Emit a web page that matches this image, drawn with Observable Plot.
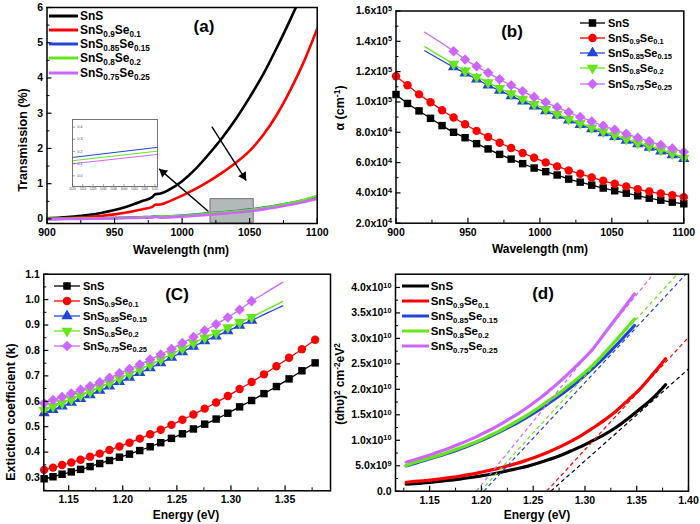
<!DOCTYPE html>
<html><head><meta charset="utf-8">
<script src="https://cdn.jsdelivr.net/npm/d3@7"></script>
<script src="https://cdn.jsdelivr.net/npm/@observablehq/plot@0.6"></script>
<style>
body{margin:0;background:#fff;}
#fig{position:relative;width:700px;height:524px;overflow:hidden;font-family:"Liberation Sans",Arial,sans-serif;font-weight:bold;color:#000;background:#fff;}
.panel{position:absolute;}
.t{position:absolute;white-space:nowrap;font-weight:bold;transform:translate(-50%,-50%);}
.r{transform:translate(-50%,-50%) rotate(-90deg);}
sub{font-size:0.68em;vertical-align:-0.32em;line-height:0;}
sup{font-size:0.68em;vertical-align:0.5em;line-height:0;}
</style></head>
<body><div id="fig"></div>
<script>
// ---------- series ----------
const seriesHtml = ["SnS","SnS<sub>0.9</sub>Se<sub>0.1</sub>","SnS<sub>0.85</sub>Se<sub>0.15</sub>","SnS<sub>0.8</sub>Se<sub>0.2</sub>","SnS<sub>0.75</sub>Se<sub>0.25</sub>"];
const colors = ["#000000","#ff0000","#2244dd","#66e61a","#cc66ff"];
const symbolNames = ["square","circle","triangle","triangle","square"];
const symbolRot = [0,0,0,180,45];

// ---------- panel (a): transmission ----------
const aWlSnS = [900,910,920,930,940,950,960,970,978,980,984,990,1000,1010,1020,1030,1040,1050,1060,1070,1080,1086];
const aSnS   = [0.02,0.04,0.07,0.11,0.17,0.25,0.36,0.50,0.62,0.70,0.72,0.82,1.07,1.42,1.85,2.32,2.85,3.45,4.10,4.85,5.65,6.15];
const aWl    = [900,910,920,930,940,950,960,970,978,980,984,990,1000,1010,1020,1030,1040,1050,1060,1070,1080,1090,1100];
const aSe10  = [0.01,0.02,0.035,0.055,0.085,0.13,0.19,0.27,0.34,0.40,0.41,0.49,0.66,0.85,1.07,1.32,1.60,1.93,2.38,2.95,3.65,4.45,5.40];
const aSe15  = [0.00,0.005,0.010,0.015,0.021,0.029,0.038,0.048,0.058,0.072,0.063,0.073,0.095,0.125,0.16,0.19,0.225,0.265,0.32,0.38,0.45,0.53,0.63];
const aSe20  = [0.00,0.004,0.008,0.013,0.018,0.026,0.035,0.045,0.055,0.070,0.060,0.070,0.090,0.120,0.15,0.18,0.215,0.255,0.31,0.375,0.45,0.54,0.66];
const aSe25  = [-0.01,-0.006,-0.002,0.003,0.009,0.016,0.024,0.033,0.042,0.055,0.035,0.045,0.065,0.090,0.12,0.15,0.18,0.22,0.27,0.33,0.40,0.48,0.57];
const aBox   = [{x1:1021, x2:1053, y1:-0.13, y2:0.56}];
const aArrows = [{x1:1022, y1:2.62, x2:1047.5, y2:1.09},{x1:1019.5, y1:0.21, x2:983, y2:1.42}];
const aXTicks = [900,950,1000,1050,1100], aXMinor = [925,975,1025,1075];
const aYTicks = [0,1,2,3,4,5,6], aYMinor = [0.5,1.5,2.5,3.5,4.5,5.5];
// inset (zoom of grey box)
const insWl = [1020,1053];
const insSe15 = [0.151,0.234], insSe20 = [0.124,0.203], insSe25 = [0.099,0.176];
const insXTicks = [1020,1024,1028,1032,1036,1040,1044,1048,1052];
const insYTicks = [0.0,0.1,0.2,0.3,0.4];

// ---------- panel (b): absorption coefficient ----------
const bWl = [900,908,916,924,932,940,948,956,964,972,980,988,996,1004,1012,1020,1028,1036,1044,1052,1060,1068,1076,1084,1092,1100];
const bSnS  = [1.049e5,9.90e4,9.41e4,8.92e4,8.44e4,8.00e4,7.64e4,7.25e4,6.90e4,6.54e4,6.23e4,5.93e4,5.64e4,5.40e4,5.18e4,4.91e4,4.71e4,4.51e4,4.32e4,4.14e4,3.98e4,3.81e4,3.65e4,3.52e4,3.39e4,3.28e4];
const bSe10 = [1.17e5,1.11e5,1.05e5,9.98e4,9.45e4,8.97e4,8.53e4,8.09e4,7.69e4,7.31e4,6.96e4,6.63e4,6.32e4,6.01e4,5.75e4,5.48e4,5.26e4,5.02e4,4.80e4,4.60e4,4.43e4,4.25e4,4.09e4,3.96e4,3.85e4,3.72e4];
const bWlTop = [920,940,948,956,964,972,980,988,996,1004,1012,1020,1028,1036,1044,1052,1060,1068,1076,1084,1092,1100];
const bSe15 = [1.338e5,1.23e5,1.19e5,1.15e5,1.11e5,1.075e5,1.04e5,1.005e5,9.72e4,9.40e4,9.10e4,8.80e4,8.50e4,8.22e4,7.95e4,7.70e4,7.45e4,7.22e4,7.00e4,6.75e4,6.50e4,6.25e4];
const bSe20 = [1.364e5,1.25e5,1.205e5,1.165e5,1.128e5,1.09e5,1.055e5,1.02e5,9.85e4,9.52e4,9.20e4,8.88e4,8.60e4,8.30e4,8.05e4,7.80e4,7.55e4,7.30e4,7.08e4,6.85e4,6.60e4,6.30e4];
const bSe25 = [1.46e5,1.335e5,1.28e5,1.235e5,1.192e5,1.15e5,1.11e5,1.07e5,1.033e5,9.98e4,9.65e4,9.32e4,9.01e4,8.71e4,8.43e4,8.16e4,7.90e4,7.64e4,7.40e4,7.16e4,6.93e4,6.70e4];
const bXTicks = [900,950,1000,1050,1100], bXMinor = [925,975,1025,1075];
const bYTicks = [2e4,4e4,6e4,8e4,1e5,1.2e5,1.4e5,1.6e5], bYMinor = [3e4,5e4,7e4,9e4,1.1e5,1.3e5,1.5e5];

// ---------- panel (c): extinction coefficient ----------
const cE = [1.1273,1.1355,1.1439,1.1524,1.1610,1.1698,1.1787,1.1877,1.1969,1.2062,1.2157,1.2253,1.2351,1.2450,1.2551,1.2653,1.2757,1.2863,1.2971,1.3080,1.3191,1.3305,1.3420,1.3537,1.3656,1.3778];
const cSnS  = [0.295,0.303,0.313,0.322,0.332,0.343,0.355,0.367,0.380,0.392,0.406,0.421,0.437,0.454,0.472,0.491,0.510,0.530,0.553,0.578,0.603,0.630,0.658,0.688,0.720,0.751];
const cSe10 = [0.330,0.339,0.349,0.359,0.370,0.382,0.394,0.408,0.422,0.437,0.453,0.470,0.488,0.507,0.527,0.548,0.571,0.595,0.621,0.648,0.676,0.706,0.738,0.771,0.805,0.842];
const cETop = [1.1273,1.1355,1.1439,1.1524,1.1610,1.1698,1.1787,1.1877,1.1969,1.2062,1.2157,1.2253,1.2351,1.2450,1.2551,1.2653,1.2757,1.2863,1.2971,1.3080,1.3191,1.3305,1.3420,1.3478];
const cTopMarkers = 21;
const cSe15 = [0.554,0.567,0.580,0.595,0.610,0.625,0.642,0.659,0.677,0.694,0.712,0.731,0.751,0.772,0.794,0.816,0.837,0.856,0.877,0.898,0.918,0.941,0.964,0.975];
const cSe20 = [0.566,0.580,0.593,0.608,0.623,0.638,0.655,0.672,0.690,0.707,0.725,0.744,0.764,0.785,0.807,0.829,0.850,0.869,0.890,0.911,0.931,0.956,0.980,0.993];
const cSe25 = [0.592,0.605,0.617,0.631,0.645,0.659,0.675,0.692,0.710,0.727,0.745,0.764,0.784,0.806,0.829,0.853,0.878,0.903,0.930,0.960,0.994,1.023,1.053,1.068];
const cXTicks = [1.15,1.20,1.25,1.30,1.35], cXMinor = [1.175,1.225,1.275,1.325,1.375];
const cYTicks = [0.3,0.4,0.5,0.6,0.7,0.8,0.9,1.0,1.1], cYMinor = [0.25,0.35,0.45,0.55,0.65,0.75,0.85,0.95,1.05];

// ---------- panel (d): Tauc plot, (αhυ)² in units of 1e10 ----------
const dE = cE;
const dSnS  = [0.1367,0.1482,0.1621,0.1769,0.1957,0.2168,0.2381,0.2633,0.2914,0.3228,0.3563,0.4029,0.4449,0.4931,0.554,0.6214,0.6961,0.7877,0.8844,0.9986,1.114,1.261,1.433,1.623,1.828,2.089];
const dSe10 = [0.1759,0.1911,0.2052,0.2222,0.2435,0.2686,0.294,0.325,0.361,0.4026,0.4438,0.4964,0.551,0.6191,0.6924,0.7755,0.8696,0.9785,1.101,1.245,1.400,1.581,1.794,2.020,2.298,2.599];
const dETop = [1.1273,1.1355,1.1439,1.1524,1.1610,1.1698,1.1787,1.1877,1.1969,1.2062,1.2157,1.2253,1.2351,1.2450,1.2551,1.2653,1.2757,1.2863,1.2971,1.3080,1.3191,1.3478];
const dSe15 = [0.496,0.545,0.596,0.651,0.703,0.760,0.824,0.892,0.968,1.051,1.144,1.243,1.348,1.464,1.591,1.732,1.881,2.039,2.225,2.423,2.633,3.252];
const dSe20 = [0.504,0.562,0.614,0.666,0.718,0.780,0.845,0.914,0.987,1.076,1.165,1.271,1.383,1.504,1.639,1.782,1.934,2.105,2.283,2.484,2.719,3.380];
const dSe25 = [0.570,0.619,0.671,0.727,0.787,0.854,0.925,1.002,1.087,1.181,1.284,1.398,1.519,1.654,1.804,1.973,2.152,2.351,2.566,2.803,3.101,3.872];
// linear-fit extrapolations (dashed): [E at zero, E end, value end]
const dFitE0 = [1.267,1.263,1.2023,1.199,1.195];
const dFitE1 = [1.400,1.400,1.3975,1.389,1.366];
const dFitY1 = [2.40,3.02,4.26,4.26,4.26];
const dXTicks = [1.15,1.20,1.25,1.30,1.35,1.40], dXMinor = [1.125,1.175,1.225,1.275,1.325,1.375];
const dYTicks = [0,0.5,1.0,1.5,2.0,2.5,3.0,3.5,4.0], dYMinor = [0.25,0.75,1.25,1.75,2.25,2.75,3.25,3.75];

// ---------- helpers ----------
const FONT = "'Liberation Sans', Arial, Helvetica, sans-serif";
const sci = v => { if (v === 0) return "0.0"; const e = Math.floor(Math.log10(v) + 1e-9); return (v / 10 ** e).toFixed(1) + "x10^" + e; };
const pts = (xs, ys) => xs.map((x, i) => ({x, y: ys[i]}));

const fig = document.getElementById("fig");

function fixSuperscripts(svg) {
  svg.querySelectorAll("text").forEach(t => {
    const s = t.textContent;
    if (!s.includes("^")) return;
    const [b, e] = s.split("^");
    t.textContent = b;
    const ts = document.createElementNS("http://www.w3.org/2000/svg", "tspan");
    ts.setAttribute("dy", "-0.45em");
    ts.setAttribute("font-size", "0.7em");
    ts.textContent = e;
    t.append(ts);
  });
}

function panel({left, top, W=350, H=262, m, xDomain, yDomain, xT, xM, yT, yM, xFmt, yFmt, marks, fs=10.5}) {
  const fw = W - m.l - m.r, fh = H - m.t - m.b;
  const svg = Plot.plot({
    width: W, height: H, marginLeft: m.l, marginRight: m.r, marginTop: m.t, marginBottom: m.b,
    style: `font: bold ${fs}px ${FONT}; overflow: visible; background: transparent; color: #000;`,
    x: {domain: xDomain, axis: null},
    y: {domain: yDomain, axis: null},
    marks: [
      ...marks,
      Plot.tickX(xT, {x: d => d, insetTop: fh - 5, stroke: "#000", strokeWidth: 1.2}),
      Plot.tickX(xM, {x: d => d, insetTop: fh - 3, stroke: "#000", strokeWidth: 1}),
      Plot.tickY(yT, {y: d => d, insetRight: fw - 5, stroke: "#000", strokeWidth: 1.2}),
      Plot.tickY(yM, {y: d => d, insetRight: fw - 3, stroke: "#000", strokeWidth: 1}),
      Plot.axisX(xT, {tickSize: 0, tickPadding: 5, tickFormat: xFmt, label: null, fill: "#000"}),
      Plot.axisY(yT, {tickSize: 0, tickPadding: 4, tickFormat: yFmt, label: null, fill: "#000"}),
      Plot.frame({stroke: "#000", strokeWidth: 1.5})
    ]
  });
  fixSuperscripts(svg);
  svg.classList.add("panel");
  svg.style.left = left + "px"; svg.style.top = top + "px";
  fig.append(svg);
}

function text(html, x, y, size, rotate=false) {
  const d = document.createElement("div");
  d.className = "t" + (rotate ? " r" : "");
  d.style.left = x + "px"; d.style.top = y + "px"; d.style.fontSize = size + "px";
  d.innerHTML = html;
  fig.append(d);
}

const d3sym = {square: d3.symbolSquare, circle: d3.symbolCircle, triangle: d3.symbolTriangle};
function legend({left, top0, dy, len, gap, font, sw, markers}) {
  seriesHtml.forEach((h, i) => {
    const row = document.createElement("div");
    row.style.cssText = `position:absolute;left:${left}px;top:${top0 + i * dy - 10}px;height:20px;display:flex;align-items:center;white-space:nowrap;font:bold ${font}px ${FONT};`;
    const s = d3.create("svg").attr("width", len).attr("height", 20).style("margin-right", gap + "px").style("overflow", "visible");
    s.append("line").attr("x1", 0).attr("x2", len).attr("y1", 10).attr("y2", 10).attr("stroke", colors[i]).attr("stroke-width", sw);
    if (markers) s.append("path").attr("d", d3.symbol(d3sym[symbolNames[i]], 18 * Math.PI)())
      .attr("transform", `translate(${len / 2},10) rotate(${symbolRot[i]})`).attr("fill", colors[i]);
    row.append(s.node());
    const sp = document.createElement("span"); sp.innerHTML = h; row.append(sp);
    fig.append(row);
  });
}

// ---------- (a) ----------
const aM = {l: 46.5, r: 33.3, t: 7, b: 39}, aXD = [900, 1100], aYD = [-0.13, 6];
const aPxX = (350 - aM.l - aM.r) / (aXD[1] - aXD[0]), aPxY = (262 - aM.t - aM.b) / (aYD[1] - aYD[0]);
const headR = 3.4, headTip = 2 * Math.sqrt(headR * headR * Math.PI / (3 * Math.sqrt(3)));
const aHeads = aArrows.map(a => {
  const vx = (a.x2 - a.x1) * aPxX, vy = -(a.y2 - a.y1) * aPxY, L = Math.hypot(vx, vy);
  const ux = vx / L, uy = vy / L;
  return Plot.dot([a], {x: "x2", y: "y2", symbol: "triangle", r: headR, fill: "#000",
    rotate: Math.atan2(ux, -uy) * 180 / Math.PI, dx: -ux * headTip, dy: -uy * headTip});
});
const aSeries = [pts(aWlSnS, aSnS), pts(aWl, aSe10), pts(aWl, aSe15), pts(aWl, aSe20), pts(aWl, aSe25)];
panel({
  left: 0, top: 0, m: aM,
  xDomain: aXD, yDomain: aYD,
  xT: aXTicks, xM: aXMinor, yT: aYTicks, yM: aYMinor,
  xFmt: d => String(d), yFmt: d => String(d),
  marks: [
    Plot.rect(aBox, {x1: "x1", x2: "x2", y1: "y1", y2: "y2", fill: "#aab1b1", fillOpacity: 0.9, stroke: "#555", strokeWidth: 0.8}),
    ...aSeries.map((s, i) => Plot.line(s, {x: "x", y: "y", stroke: colors[i], strokeWidth: 2.6, curve: "monotone-x", clip: true})),
    Plot.link(aArrows, {x1: "x1", y1: "y1", x2: "x2", y2: "y2", stroke: "#000", strokeWidth: 1.4}),
    ...aHeads
  ]
});
// inset
{
  const W = 85, H = 67;
  const svg = Plot.plot({
    width: W, height: H, marginLeft: 0, marginRight: 0, marginTop: 0, marginBottom: 0,
    style: `font: 3.5px ${FONT}; overflow: visible; background: #fff;`,
    x: {domain: [1020, 1053], axis: null}, y: {domain: [-0.088, 0.463], axis: null},
    marks: [
      Plot.line(pts(insWl, insSe15), {x: "x", y: "y", stroke: colors[2], strokeWidth: 1}),
      Plot.line(pts(insWl, insSe20), {x: "x", y: "y", stroke: colors[3], strokeWidth: 1}),
      Plot.line(pts(insWl, insSe25), {x: "x", y: "y", stroke: colors[4], strokeWidth: 1}),
      Plot.tickY(insYTicks, {y: d => d, insetRight: W - 3, stroke: "#444", strokeWidth: 0.5}),
      Plot.text(insYTicks, {y: d => d, text: d => d.toFixed(1), frameAnchor: "left", dx: 5, textAnchor: "start", fontSize: 3.5, fill: "#444"}),
      Plot.tickX(insXTicks, {x: d => d, insetTop: H - 2, stroke: "#444", strokeWidth: 0.5}),
      Plot.text(insXTicks, {x: d => d, text: d => String(d), frameAnchor: "bottom", dy: 3, fontSize: 3, fill: "#444"}),
      Plot.frame({stroke: "#666", strokeWidth: 0.9})
    ]
  });
  svg.classList.add("panel");
  svg.style.left = "72px"; svg.style.top = "118.5px";
  fig.append(svg);
}

// ---------- (b) ----------
const bAll = [pts(bWl, bSnS), pts(bWl, bSe10), pts(bWlTop, bSe15), pts(bWlTop, bSe20), pts(bWlTop, bSe25)];
panel({
  left: 350, top: 0, m: {l: 45.5, r: 16.7, t: 10.5, b: 39.3},
  xDomain: [900, 1100], yDomain: [2e4, 1.6e5],
  xT: bXTicks, xM: bXMinor, yT: bYTicks, yM: bYMinor,
  xFmt: d => String(d), yFmt: sci,
  marks: bAll.flatMap((s, i) => [
    Plot.line(s, {x: "x", y: "y", stroke: colors[i], strokeWidth: 1.3, curve: "monotone-x"}),
    Plot.dot(i < 2 ? s : s.slice(1), {x: "x", y: "y", symbol: symbolNames[i], rotate: symbolRot[i], r: 4.2, fill: colors[i], stroke: "none"})
  ])
});

// ---------- (c) ----------
const cAll = [pts(cE, cSnS), pts(cE, cSe10), pts(cETop, cSe15), pts(cETop, cSe20), pts(cETop, cSe25)];
panel({
  left: 0, top: 262, m: {l: 43.3, r: 20, t: 11.7, b: 33.7},
  xDomain: [1.127, 1.392], yDomain: [0.2477, 1.1],
  xT: cXTicks, xM: cXMinor, yT: cYTicks, yM: cYMinor,
  xFmt: d => d.toFixed(2), yFmt: d => d.toFixed(1),
  marks: cAll.flatMap((s, i) => [
    Plot.line(s, {x: "x", y: "y", stroke: colors[i], strokeWidth: 1.3, curve: "monotone-x"}),
    Plot.dot(i < 2 ? s : s.slice(0, cTopMarkers), {x: "x", y: "y", symbol: symbolNames[i], rotate: symbolRot[i], r: 4.2, fill: colors[i], stroke: "none"})
  ])
});

// ---------- (d) ----------
const dAll = [pts(dE, dSnS), pts(dE, dSe10), pts(dETop, dSe15), pts(dETop, dSe20), pts(dETop, dSe25)];
const dFits = dFitE0.map((e0, i) => ({x1: e0, y1: 0, x2: dFitE1[i], y2: dFitY1[i], c: colors[i]}));
panel({
  left: 350, top: 262, m: {l: 45, r: 12, t: 11.7, b: 33.3},
  xDomain: [1.117, 1.40], yDomain: [0, 4.26],
  xT: dXTicks, xM: dXMinor, yT: dYTicks, yM: dYMinor,
  xFmt: d => d.toFixed(2), yFmt: d => d === 0 ? "0.0" : sci(d * 1e10),
  marks: [
    ...dAll.map((s, i) => Plot.line(s, {x: "x", y: "y", stroke: colors[i], strokeWidth: 3.2, curve: "monotone-x"})),
    Plot.link(dFits, {x1: "x1", y1: "y1", x2: "x2", y2: "y2", stroke: "c", strokeWidth: 1.2, strokeDasharray: "4,3", clip: true})
  ]
});

// ---------- titles ----------
text("Transmission (%)", 23, 140, 12.5, true);
text("Wavelength (nm)", 181, 250, 12);
text("(a)", 204, 27, 17);
text("α (cm<sup>-1</sup>)", 340, 108, 12.5, true);
text("Wavelength (nm)", 540, 249, 12);
text("(b)", 512, 32, 17);
text("Extiction coefficient (k)", 11, 412, 12.5, true);
text("Energy (eV)", 186, 515, 12);
text("(C)", 177, 295, 17);
text("(αhυ)<sup>2</sup> cm<sup>-2</sup>eV<sup>2</sup>", 340, 384, 12, true);
text("Energy (eV)", 537, 515, 12);
text("(d)", 543, 294, 17);

// ---------- legends ----------
legend({left: 49, top0: 15.7, dy: 14.25, len: 29, gap: 2, font: 12, sw: 3, markers: false});
legend({left: 580, top0: 22.7, dy: 15.2, len: 25, gap: 3, font: 11, sw: 1.3, markers: true});
legend({left: 54, top0: 286, dy: 15.1, len: 26, gap: 3, font: 11, sw: 1.3, markers: true});
legend({left: 401.7, top0: 286, dy: 15.1, len: 27, gap: 2, font: 11.5, sw: 3, markers: false});
</script>
</body></html>
